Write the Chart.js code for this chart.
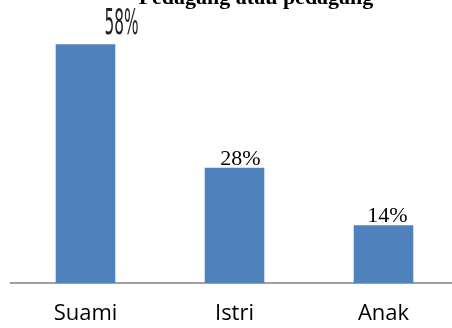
<!DOCTYPE html>
<html>
<head>
<meta charset="utf-8">
<script src="https://cdn.jsdelivr.net/npm/chart.js@4"></script>
<style>
    html, body { margin: 0; padding: 0; background: #fff; overflow: hidden; }
    #chart { display: block; }
</style>
</head>
<body>
<canvas id="chart" width="460" height="328"></canvas>
<script>
// Chart data
const categories = ['Suami', 'Istri', 'Anak'];
const shares = [58, 28, 14];
const shareLabels = ['58%', '28%', '14%'];
const titleText = 'Pedagang atau pedagang';

// Title that sits mostly above the canvas, plus value labels
const extrasPlugin = {
    id: 'extras',
    afterDatasetsDraw(chart) {
        const ctx = chart.ctx;
        ctx.save();
        ctx.fillStyle = '#000';
        ctx.font = 'bold 22px "Liberation Serif"';
        ctx.textAlign = 'center';
        ctx.textBaseline = 'alphabetic';
        ctx.fillText(titleText, 256, 4);

        const bars = chart.getDatasetMeta(0).data;
        bars.forEach((bar, i) => {
            if (i === 0) {
                // the first label looks squeezed in the original
                ctx.save();
                ctx.translate(bar.x + 36, bar.y - 2);
                ctx.scale(0.64, 1.45);
                ctx.font = '24px "DejaVu Sans"';
                ctx.textAlign = 'center';
                ctx.textBaseline = 'bottom';
                ctx.fillStyle = '#222';
                ctx.fillText(shareLabels[i], 0, 0);
                ctx.restore();
            } else {
                ctx.font = '22px "Liberation Serif"';
                ctx.textAlign = 'center';
                ctx.textBaseline = 'bottom';
                ctx.fillText(shareLabels[i], bar.x + (i === 1 ? 6 : 4), bar.y + 2);
            }
        });
        ctx.restore();
    }
};

new Chart(document.getElementById('chart'), {
    type: 'bar',
    data: {
        labels: categories,
        datasets: [{
            data: shares,
            backgroundColor: '#4f81bd',
            barPercentage: 0.4,
            categoryPercentage: 1
        }]
    },
    options: {
        responsive: false,
        animation: false,
        layout: { padding: { left: 11, right: 2, top: 36, bottom: 0 } },
        plugins: {
            legend: { display: false },
            tooltip: { enabled: false },
            title: { display: false }
        },
        scales: {
            x: {
                grid: { display: false, drawTicks: false },
                border: { color: '#a0a0a0', width: 2 },
                ticks: {
                    color: '#000',
                    font: { family: '"Open Sans"', size: 22 },
                    padding: 18
                },
                afterFit(scale) {
                    scale.height = 45;
                }
            },
            y: {
                display: false,
                min: 0,
                max: 60
            }
        }
    },
    plugins: [extrasPlugin]
});
</script>
</body>
</html>
